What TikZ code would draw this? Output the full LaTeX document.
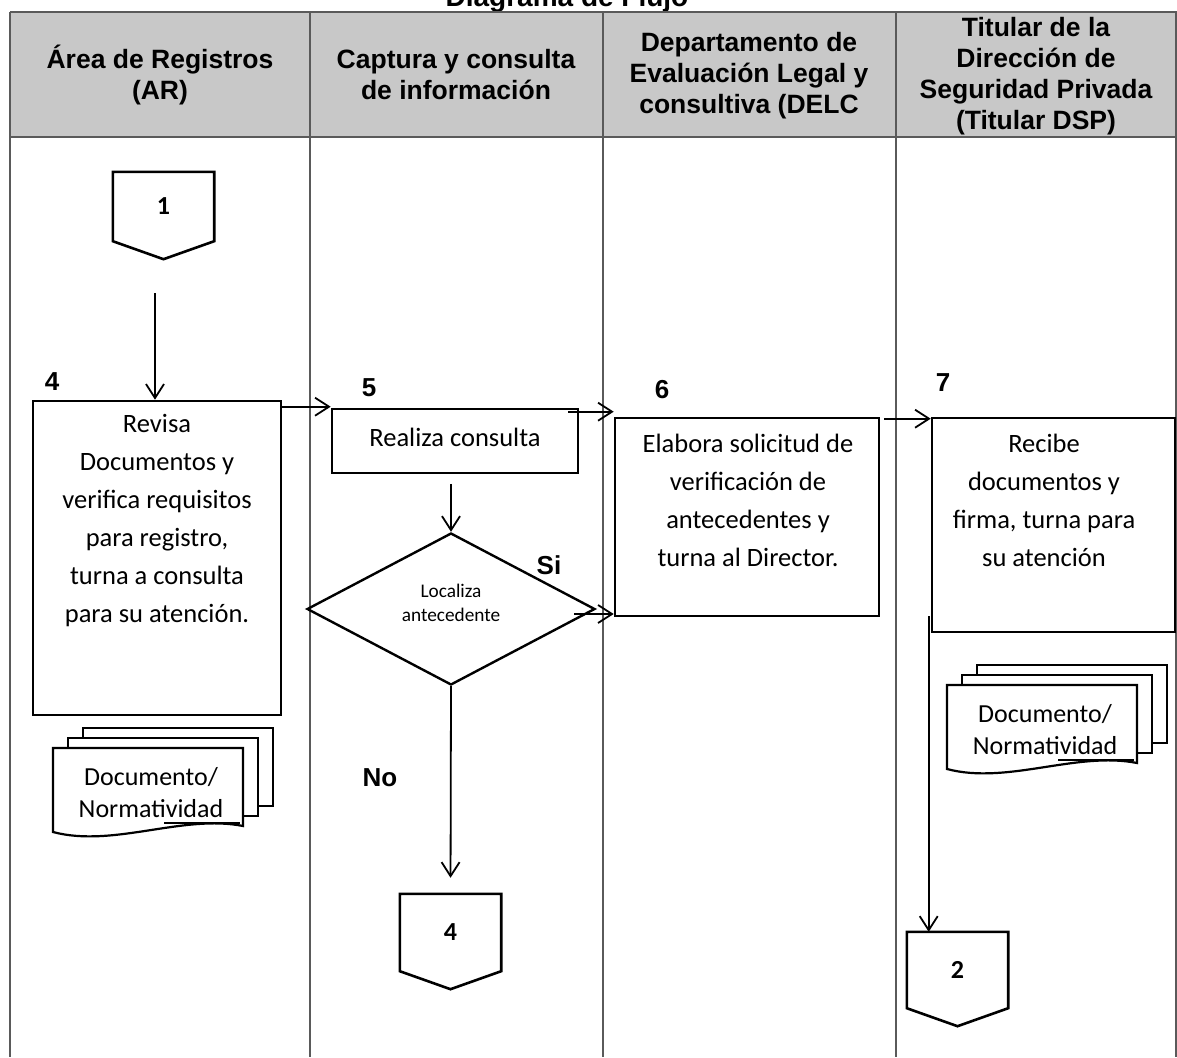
\documentclass[tikz,border=0pt]{standalone}
\usepackage{fontspec}
\setmainfont{Carlito}
\newfontfamily\arialfont{Liberation Sans}
\usetikzlibrary{calc,arrows.meta,positioning,shapes.geometric}
\definecolor{head-gray}{HTML}{C8C8C8}
\definecolor{lane-line}{HTML}{5A5A5A}

% conector fuera de pagina: nombre, centro, altura, texto
\newcommand{\offpage}[4]{%
  \node[offbox, minimum height=#3] (#1) at (#2) {#4};
  \draw[offline] (#1.north west) -- (#1.north east) -- (#1.south east)
    -- ($(#1.south)+(0,18)$) -- (#1.south west) -- cycle;
}

\begin{document}
\begin{tikzpicture}[
    x=1pt, y=-1pt,
    lane/.style={draw=lane-line, line width=1.4pt},
    head/.style={font=\arialfont\bfseries\fontsize{26.5}{31}\selectfont, align=center, inner sep=0pt},
    proc/.style={draw, line width=2.6pt, inner sep=0pt},
    txt/.style={align=center, inner sep=0pt, font=\fontsize{26.5}{38}\selectfont},
    decide/.style={diamond, draw, line width=2.4pt, minimum width=288pt, minimum height=152pt, inner sep=0pt},
    dectxt/.style={align=center, inner sep=0pt, font=\fontsize{19.3}{24}\selectfont},
    offbox/.style={minimum width=101pt, inner sep=0pt, font=\bfseries\fontsize{26}{30}\selectfont},
    offline/.style={draw, line width=2.6pt, line join=miter},
    conn/.style={-{Straight Barb[length=14pt,width=18pt]}, line width=1.8pt},
    steplabel/.style={font=\arialfont\bfseries\fontsize{26}{30}\selectfont, inner sep=0pt},
    docline/.style={draw, fill=white, line width=2.2pt},
    doctxt/.style={align=center, inner sep=0pt, font=\fontsize{26}{32}\selectfont},
    docstack/.pic={
        \foreach \dx/\dy in {30/-20, 15/-10}{
            \draw[docline] (\dx,\dy) rectangle ++(190,78);
        }
        \draw[docline] (0,0) -- (190,0) -- (190,78) .. controls (130,66) and (60,100) .. (0,84) -- cycle;
        \node[doctxt] (-txt) at (98,45) {Documento/\\Normatividad};
        \draw[line width=2.4pt] (111,75) -- (187,75);
    }
]
\useasboundingbox (0,0) rectangle (1177,1057);
\fill[white] (0,0) rectangle (1177,1057);

% ---------------- Encabezado y carriles ----------------
\node[font=\arialfont\bfseries\fontsize{28}{32}\selectfont, anchor=base, inner sep=0pt] (title) at (567,7) {Diagrama de Flujo};
\fill[head-gray] (10,12) rectangle (1177,137);
\draw[lane] (10,12) -- (1177,12);
\draw[lane] (10,137) -- (1177,137);
\foreach \x in {10,310,603,896,1176}
    \draw[lane] (\x,12) -- (\x,1057);

\node[head] (hAR)   at (160,75)   {Área de Registros\\(AR)};
\node[head] (hCap)  at (456,75)   {Captura y consulta\\de información};
\node[head] (hDELC) at (749,76)   {Departamento de\\Evaluación Legal y\\consultiva (DELC};
\node[head] (hDSP)  at (1036,76)  {Titular de la\\Dirección de\\Seguridad Privada\\(Titular DSP)};

% ---------------- Area de Registros ----------------
\offpage{con1}{163.5,206.5}{69pt}{1}
\node[steplabel] (n4) at (52,382) {4};
\node[proc, minimum width=248pt, minimum height=314pt] (rev) at (157,558) {};
\node[txt] (revtxt) at (157,521) {Revisa\\Documentos y\\verifica requisitos\\para registro,\\turna a consulta\\para su atención.};
\pic (docsA) at (53,748) {docstack};

\coordinate (s1) at (155,293);
\draw[conn] (s1) -- (s1 |- rev.north);

% ---------------- Captura y consulta ----------------
\node[steplabel] (n5) at (369,388) {5};
\node[proc, minimum width=246pt, minimum height=64pt] (cons) at (455,441) {};
\node[txt] (constxt) at (455,437) {Realiza consulta};
\node[decide] (loc) at (451,609) {};
\node[dectxt] (loctxt) at (451,603) {Localiza\\antecedente};
\node[steplabel] (si) at (549,565) {Si};
\node[steplabel] (no) at (380,778) {No};
\offpage{con4}{450.5,932.5}{77pt}{4}

\draw[conn] ($(rev.north east)+(0,7)$) -- ($(rev.north east -| cons.west)+(0,7)$);
\draw[conn] ($(loc.north)+(0,-48)$) -- (loc.north);
\draw[conn, shorten >=16pt] (loc.south) -- (con4.north);

% ---------------- DELC ----------------
\node[steplabel] (n6) at (662,390) {6};
\node[proc, minimum width=264pt, minimum height=198pt] (elab) at (747,517) {};
\node[txt] (elabtxt) at (748,500) {Elabora solicitud de\\verificación de\\antecedentes y\\turna al Director.};

\draw[conn] ($(cons.north east)+(-11,4)$) -- ($(cons.north east -| elab.west)+(0,4)$);
\draw[conn] ($(loc.east)+(-22,5)$) -- ($(loc.east -| elab.west)+(0,5)$);

% ---------------- Titular DSP ----------------
\node[steplabel] (n7) at (943,383) {7};
\node[proc, minimum width=243pt, minimum height=214pt] (recb) at (1053.5,525) {};
\node[txt] (recbtxt) at (1044,500) {Recibe\\documentos y\\firma, turna para\\su atención};
\pic (docsB) at (947,685) {docstack};
\offpage{con2}{957.5,970}{76pt}{2}

\draw[conn] ($(elab.north east)+(4,2)$) -- ($(elab.north east -| recb.west)+(0,2)$);
\draw[conn] ($(recb.south west)+(-2,-17)$) -- ($(recb.south west |- con2.north)+(-2,0)$);

\end{tikzpicture}
\end{document}
